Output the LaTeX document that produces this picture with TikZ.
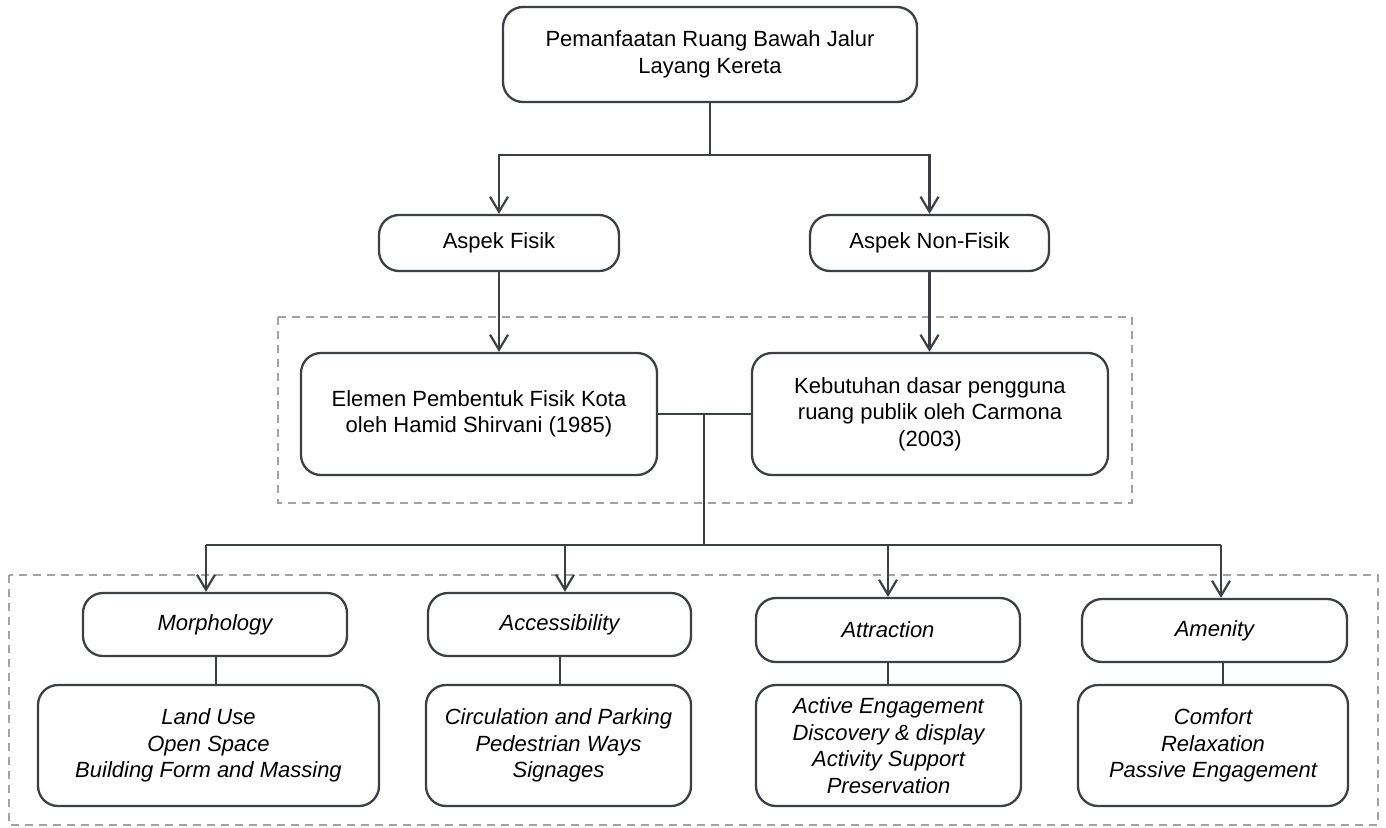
\documentclass[tikz,border=0pt]{standalone}
\usepackage{fontspec}
\setmainfont{Liberation Sans}
\usetikzlibrary{arrows.meta}
\definecolor{ln}{HTML}{3C3F44}
\definecolor{dsh}{HTML}{A3A3A3}
\tikzset{
  box/.style={draw=ln, line width=2.3pt, rounded corners=20pt, inner sep=0pt, align=center,
    font=\fontsize{22}{26.5}\selectfont, text=black},
  ibox/.style={box, font=\fontsize{22}{26.5}\selectfont\itshape},
  conn/.style={draw=ln, line width=2.2pt},
  arr/.style={conn, -{Straight Barb[length=15pt,width=18pt,line width=2.2pt]}},
  group/.style={draw=dsh, line width=2pt, dash pattern=on 8pt off 6pt},
}
\begin{document}
\begin{tikzpicture}[x=1pt,y=-1pt]
\useasboundingbox (0,0) rectangle (1386,827);
% dashed groups
\draw[group] (278,317) rectangle (1132,503);
\draw[group] (9,575) rectangle (1378,825);
% nodes
\node[box, minimum width=414pt, minimum height=95pt] (top) at (710,54.5) {Pemanfaatan Ruang Bawah Jalur\\Layang Kereta};
\node[box, minimum width=240pt, minimum height=56pt] (fisik) at (499,243) {Aspek Fisik};
\node[box, minimum width=239pt, minimum height=56pt] (nonfisik) at (929.5,243) {Aspek Non-Fisik};
\node[box, minimum width=356pt, minimum height=122pt] (elemen) at (479,414) {Elemen Pembentuk Fisik Kota\\oleh Hamid Shirvani (1985)};
\node[box, minimum width=356pt, minimum height=122pt] (kebut) at (930,414) {Kebutuhan dasar pengguna\\ruang publik oleh Carmona\\(2003)};
\node[ibox, minimum width=264pt, minimum height=63pt] (morph) at (215,624.5) {Morphology};
\node[ibox, minimum width=263pt, minimum height=63pt] (acc) at (559.5,624.5) {Accessibility};
\node[ibox, minimum width=264pt, minimum height=64pt] (attr) at (888,630) {Attraction};
\node[ibox, minimum width=265pt, minimum height=63pt] (amen) at (1214.5,630.5) {Amenity};
\node[ibox, minimum width=341pt, minimum height=121pt] (landuse) at (208.5,745.5) {Land Use\\Open Space\\Building Form and Massing};
\node[ibox, minimum width=265pt, minimum height=121pt] (circ) at (558.5,745.5) {Circulation and Parking\\Pedestrian Ways\\Signages};
\node[ibox, minimum width=265pt, minimum height=121pt] (active) at (888.5,745.5) {Active Engagement\\Discovery \& display\\Activity Support\\Preservation};
\node[ibox, minimum width=270pt, minimum height=121pt] (comfort) at (1213,745.5) {Comfort\\Relaxation\\Passive Engagement};
% coordinates
\coordinate (t1) at (710,155);
\coordinate (j) at (704,414);
\coordinate (bus) at (704,545);
\coordinate (b1) at (206,545);
\coordinate (b2) at (565,545);
\coordinate (b3) at (888,545);
\coordinate (b4) at (1221,545);
\coordinate (c1) at (216,0);
\coordinate (c2) at (560,0);
\coordinate (c4) at (1223,0);
% connectors
\draw[conn] (top.south) -- (t1);
\draw[arr] (t1) -| (fisik.north);
\draw[arr] (t1) -| (nonfisik.north);
\draw[arr] (fisik.south) -- (elemen.north -| fisik.south);
\draw[arr] (nonfisik.south) -- (kebut.north -| nonfisik.south);
\draw[conn] (elemen.east) -- (kebut.west);
\draw[conn] (j) -- (bus);
\draw[conn] (b1) -- (b4);
\draw[arr] (b1) -- (b1 |- morph.north);
\draw[arr] (b2) -- (b2 |- acc.north);
\draw[arr] (b3) -- (b3 |- attr.north);
\draw[arr] (b4) -- (b4 |- amen.north);
\draw[conn] (c1 |- morph.south) -- (c1 |- landuse.north);
\draw[conn] (c2 |- acc.south) -- (c2 |- circ.north);
\draw[conn] (attr.south) -- (active.north -| attr.south);
\draw[conn] (c4 |- amen.south) -- (c4 |- comfort.north);
\end{tikzpicture}
\end{document}
